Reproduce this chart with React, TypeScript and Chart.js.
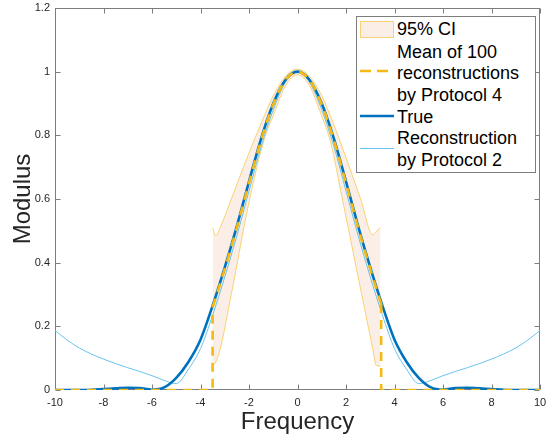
import React, { useEffect, useRef } from "react";
import { Chart, registerables } from "chart.js";

Chart.register(...registerables);

// ---- data ----
const frequency = [-10, -9.5, -9, -8.5, -8, -7.5, -7, -6.5, -6, -5.5, -5, -4.5, -4, -3.5, -3, -2.5, -2, -1.5, -1, -0.5, 0, 0.5, 1, 1.5, 2, 2.5, 3, 3.5, 4, 4.5, 5, 5.5, 6, 6.5, 7, 7.5, 8, 8.5, 9, 9.5, 10];
const trueModulus = [0, 0, 0, 0.001, 0.003, 0.005, 0.007, 0.006, 0.001, 0.008, 0.038, 0.088, 0.158, 0.265, 0.385, 0.515, 0.655, 0.79, 0.9, 0.974, 1, 0.974, 0.9, 0.79, 0.655, 0.515, 0.385, 0.265, 0.158, 0.088, 0.038, 0.008, 0.001, 0.006, 0.007, 0.005, 0.003, 0.001, 0, 0, 0];
const protocol2Modulus = [0.187, 0.157, 0.132, 0.113, 0.097, 0.083, 0.07, 0.058, 0.045, 0.03, 0.02, 0.065, 0.13, 0.235, 0.355, 0.485, 0.625, 0.765, 0.88, 0.966, 1, 0.966, 0.88, 0.765, 0.625, 0.485, 0.355, 0.235, 0.13, 0.065, 0.02, 0.03, 0.045, 0.058, 0.07, 0.083, 0.097, 0.113, 0.132, 0.157, 0.187];

const meanFrequency = [-3.5, -3, -2.5, -2, -1.5, -1, -0.5, 0, 0.5, 1, 1.5, 2, 2.5, 3, 3.45];
const meanModulus = [0.26, 0.38, 0.51, 0.65, 0.785, 0.897, 0.973, 1, 0.973, 0.897, 0.785, 0.65, 0.51, 0.38, 0.27];
const meanCutLow = -3.5;
const meanCutHigh = 3.45;
const freqMin = -10;
const freqMax = 10;

const ciFrequency = [-3.5, -3.37, -3.2, -2.73, -2, -1.36, -1, -0.5, 0, 0.5, 1, 1.36, 1.86, 2.62, 3.1, 3.24, 3.42];
const ciUpper = [0.51, 0.485, 0.508, 0.6, 0.745, 0.863, 0.925, 0.985, 1.008, 0.985, 0.925, 0.86, 0.76, 0.596, 0.488, 0.497, 0.51];
const ciLower = [0.075, 0.088, 0.125, 0.3, 0.59, 0.79, 0.862, 0.955, 0.99, 0.955, 0.86, 0.78, 0.596, 0.31, 0.13, 0.077, 0.075];

const xTickStep = 2;
const yMax = 1.2;
const yTickStep = 0.2;

const legendLines = [
  "95% CI",
  "Mean of 100",
  "reconstructions",
  "by Protocol 4",
  "True",
  "Reconstruction",
  "by Protocol 2",
];

// ---- styles ----
const FONT = "'Liberation Sans', Arial, Helvetica, sans-serif";
const BLUE = "#0072BD";
const LIGHT_BLUE = "rgb(105,195,238)";
const YELLOW = "#F5B914";
const CI_FILL = "rgb(251,238,230)";
const CI_EDGE = "rgba(248,190,50,0.65)";
const AXIS = "#7d7d7d";
const TEXT = "#262626";

const zip = (xs: number[], ys: number[]) => xs.map((x, i) => ({ x, y: ys[i] }));
const fmt = (v: any) => String(Number(Number(v).toFixed(2)));

const framePlugin = {
  id: "frame",
  beforeDatasetsDraw(chart: any) {
    const { ctx, chartArea, scales } = chart;
    const l = Math.round(chartArea.left) + 0.5;
    const r = Math.round(chartArea.right) - 0.5;
    const t = Math.round(chartArea.top) + 0.5;
    const b = Math.round(chartArea.bottom) - 0.5;
    ctx.save();
    ctx.strokeStyle = AXIS;
    ctx.lineWidth = 1;
    ctx.strokeRect(l, t, r - l, b - t);
    const tl = 5;
    ctx.beginPath();
    scales.x.ticks.forEach((tk: any) => {
      const px = Math.round(scales.x.getPixelForValue(tk.value)) + 0.5;
      ctx.moveTo(px, b);
      ctx.lineTo(px, b - tl);
      ctx.moveTo(px, t);
      ctx.lineTo(px, t + tl);
    });
    scales.y.ticks.forEach((tk: any) => {
      const py = Math.round(scales.y.getPixelForValue(tk.value)) + 0.5;
      ctx.moveTo(l, py);
      ctx.lineTo(l + tl, py);
      ctx.moveTo(r, py);
      ctx.lineTo(r - tl, py);
    });
    ctx.stroke();
    ctx.restore();
  },
};

export default function App() {
  const ref = useRef<HTMLCanvasElement>(null);

  useEffect(() => {
    const chart = new Chart(ref.current as HTMLCanvasElement, {
      type: "line",
      data: {
        datasets: [
          {
            label: "95% CI upper",
            data: zip(ciFrequency, ciUpper),
            borderColor: CI_EDGE,
            borderWidth: 1,
            backgroundColor: CI_FILL,
            fill: "+1",
            pointRadius: 0,
            cubicInterpolationMode: "monotone",
            order: 10,
          },
          {
            label: "95% CI lower",
            data: zip(ciFrequency, ciLower),
            borderColor: CI_EDGE,
            borderWidth: 1,
            fill: false,
            pointRadius: 0,
            cubicInterpolationMode: "monotone",
            order: 9,
          },
          {
            label: "Reconstruction by Protocol 2",
            data: zip(frequency, protocol2Modulus),
            borderColor: LIGHT_BLUE,
            borderWidth: 1,
            fill: false,
            pointRadius: 0,
            cubicInterpolationMode: "monotone",
            order: 4,
          },
          {
            label: "True",
            data: zip(frequency, trueModulus),
            borderColor: BLUE,
            borderWidth: 2.6,
            fill: false,
            pointRadius: 0,
            cubicInterpolationMode: "monotone",
            order: 3,
          },
          {
            label: "Mean left",
            data: [
              { x: freqMin, y: 0 },
              { x: meanCutLow, y: 0 },
              { x: meanCutLow, y: meanModulus[0] },
            ],
            borderColor: YELLOW,
            borderWidth: 2.6,
            borderDash: [9, 7],
            fill: false,
            pointRadius: 0,
            tension: 0,
            order: 1,
          },
          {
            label: "Mean of 100 reconstructions by Protocol 4",
            data: zip(meanFrequency, meanModulus),
            borderColor: YELLOW,
            borderWidth: 2.6,
            borderDash: [9, 7],
            fill: false,
            pointRadius: 0,
            cubicInterpolationMode: "monotone",
            order: 1,
          },
          {
            label: "Mean right",
            data: [
              { x: meanCutHigh, y: meanModulus[meanModulus.length - 1] },
              { x: meanCutHigh, y: 0 },
              { x: freqMax, y: 0 },
            ],
            borderColor: YELLOW,
            borderWidth: 2.6,
            borderDash: [9, 7],
            fill: false,
            pointRadius: 0,
            tension: 0,
            order: 1,
          },
        ],
      },
      options: {
        animation: false,
        responsive: false,
        events: [],
        layout: { padding: { top: 8, right: 6, left: 0, bottom: 0 } },
        plugins: {
          legend: { display: false },
          tooltip: { enabled: false },
        },
        scales: {
          x: {
            type: "linear",
            min: freqMin,
            max: freqMax,
            grid: { display: false, drawTicks: false },
            border: { display: false },
            ticks: {
              stepSize: xTickStep,
              color: TEXT,
              font: { family: FONT, size: 11 },
              padding: 6,
              maxRotation: 0,
              autoSkip: false,
              callback: fmt,
            },
            title: {
              display: true,
              text: "Frequency",
              color: TEXT,
              font: { family: FONT, size: 24 },
              padding: { top: 0, bottom: 8 },
            },
            afterFit: (s: any) => {
              s.height = 55;
              s.paddingLeft = 0;
              s.paddingRight = 0;
            },
          },
          y: {
            type: "linear",
            min: 0,
            max: yMax,
            grid: { display: false, drawTicks: false },
            border: { display: false },
            ticks: {
              stepSize: yTickStep,
              color: TEXT,
              font: { family: FONT, size: 11 },
              padding: 5,
              callback: fmt,
            },
            title: {
              display: true,
              text: "Modulus",
              color: TEXT,
              font: { family: FONT, size: 24 },
              padding: { top: 9, bottom: 0 },
            },
            afterFit: (s: any) => {
              s.width = 55;
              s.paddingTop = 0;
              s.paddingBottom = 0;
            },
          },
        },
      },
      plugins: [framePlugin],
    } as any);
    return () => chart.destroy();
  }, []);

  const lineCenters = [29, 51.5, 73, 94.5, 116.5, 138, 160];

  return (
    <div style={{ position: "fixed", left: 0, top: 0, width: 546, height: 445, background: "#fff", overflow: "hidden" }}>
      <canvas ref={ref} width={546} height={445} style={{ display: "block", width: 546, height: 445 }} />
      <div
        style={{
          position: "absolute",
          left: 356,
          top: 16,
          width: 178,
          height: 155,
          border: `1px solid ${AXIS}`,
          background: "#fff",
        }}
      />
      <svg width={546} height={445} style={{ position: "absolute", left: 0, top: 0 }}>
        <rect x={360.5} y={21.5} width={33} height={16} fill={CI_FILL} stroke={CI_EDGE} strokeWidth={1} />
        <line x1={360} y1={71} x2={394} y2={71} stroke={YELLOW} strokeWidth={2.6} strokeDasharray="11 6" />
        <line x1={360} y1={116} x2={394} y2={116} stroke={BLUE} strokeWidth={2.6} />
        <line x1={360} y1={148.5} x2={394} y2={148.5} stroke={LIGHT_BLUE} strokeWidth={1} />
      </svg>
      {legendLines.map((t, i) => (
        <div
          key={i}
          style={{
            position: "absolute",
            left: 397,
            top: lineCenters[i] - 11,
            height: 22,
            lineHeight: "22px",
            fontFamily: FONT,
            fontSize: 18,
            color: "#000",
            whiteSpace: "nowrap",
          }}
        >
          {t}
        </div>
      ))}
    </div>
  );
}
